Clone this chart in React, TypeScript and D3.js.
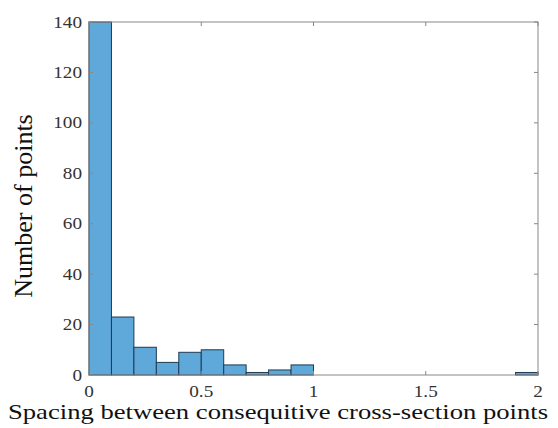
import { useRef, useEffect } from 'react';
import * as d3 from 'd3';

const binEdges = [0, 0.1, 0.2, 0.3, 0.4, 0.5, 0.6, 0.7, 0.8, 0.9, 1.0, 1.1, 1.2, 1.3, 1.4, 1.5, 1.6, 1.7, 1.8, 1.9, 2.0];
const counts = [140, 23, 11, 5, 9, 10, 4, 1, 2, 4, 0, 0, 0, 0, 0, 0, 0, 0, 0, 1];
const xTicks = [0, 0.5, 1, 1.5, 2];
const yTicks = [0, 20, 40, 60, 80, 100, 120, 140];

function App() {
  const ref = useRef<SVGSVGElement | null>(null);

  useEffect(() => {
    const el = ref.current;
    if (!el) return;
    el.innerHTML = '';

    const left = 89, right = 538, top = 22, bottom = 375;
    const svg = d3.select(el);
    const font = '"Liberation Serif", "Times New Roman", serif';

    const x = d3.scaleLinear().domain([0, 2]).range([left, right]);
    const y = d3.scaleLinear().domain([0, 140]).range([bottom, top]);

    const bins = counts.map((c, i) => ({ x0: binEdges[i], x1: binEdges[i + 1], c }));

    svg.append('g')
      .selectAll('rect')
      .data(bins.filter(d => d.c > 0))
      .enter()
      .append('rect')
      .attr('x', d => x(d.x0))
      .attr('width', d => x(d.x1) - x(d.x0))
      .attr('y', d => y(d.c))
      .attr('height', d => y(0) - y(d.c))
      .attr('fill', '#5fa8da')
      .attr('stroke', '#1f3b52')
      .attr('stroke-width', 1);

    const tickLen = 4;
    const axisColor = '#888';

    // box
    svg.append('rect')
      .attr('x', left).attr('y', top)
      .attr('width', right - left).attr('height', bottom - top)
      .attr('fill', 'none').attr('stroke', axisColor).attr('stroke-width', 1);

    // the picture is a bit wider than tall, so the text is stretched sideways
    const xg = svg.append('g');
    xTicks.forEach(t => {
      xg.append('line').attr('x1', x(t)).attr('x2', x(t)).attr('y1', bottom).attr('y2', bottom - tickLen).attr('stroke', axisColor);
      xg.append('line').attr('x1', x(t)).attr('x2', x(t)).attr('y1', top).attr('y2', top + tickLen).attr('stroke', axisColor);
      xg.append('text').attr('transform', `translate(${x(t)},${bottom + 21.5}) scale(1.2,1)`)
        .attr('text-anchor', 'middle').attr('font-family', font).attr('font-size', 16).attr('fill', '#333')
        .text(String(t));
    });

    const yg = svg.append('g');
    yTicks.forEach(t => {
      yg.append('line').attr('x1', left).attr('x2', left + tickLen).attr('y1', y(t)).attr('y2', y(t)).attr('stroke', axisColor);
      yg.append('line').attr('x1', right).attr('x2', right - tickLen).attr('y1', y(t)).attr('y2', y(t)).attr('stroke', axisColor);
      yg.append('text').attr('transform', `translate(${left - 7},${y(t) + 5.5}) scale(1.2,1)`)
        .attr('text-anchor', 'end').attr('font-family', font).attr('font-size', 16).attr('fill', '#333')
        .text(String(t));
    });

    svg.append('text')
      .attr('transform', 'translate(278,419) scale(1.24,1)')
      .attr('text-anchor', 'middle').attr('font-family', font).attr('font-size', 21.5).attr('fill', '#111')
      .text('Spacing between consequitive cross-section points');

    svg.append('text')
      .attr('transform', `translate(32,206) rotate(-90)`)
      .attr('text-anchor', 'middle').attr('font-family', font).attr('font-size', 26).attr('fill', '#111')
      .text('Number of points');
  }, []);

  return (
    <svg ref={ref} width={558} height={428} style={{ position: 'absolute', left: 0, top: 0, background: '#fff' }} />
  );
}

export default App;
